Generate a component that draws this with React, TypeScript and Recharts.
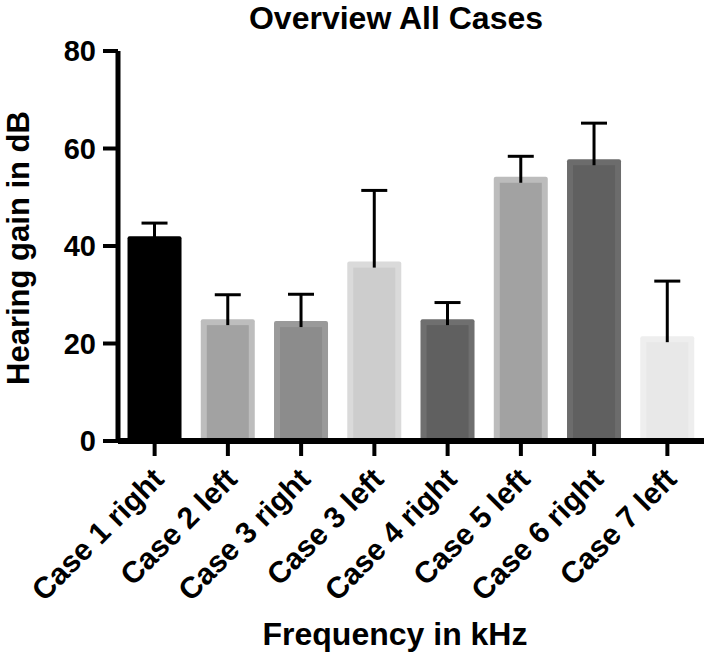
import { BarChart, Bar, XAxis, YAxis } from "recharts";

const cases = [
  "Case 1 right",
  "Case 2 left",
  "Case 3 right",
  "Case 3 left",
  "Case 4 right",
  "Case 5 left",
  "Case 6 right",
  "Case 7 left",
];
const gain = [42, 25, 24.6, 36.8, 25, 54.2, 57.8, 21.5];
const sd = [2.7, 5, 5.5, 14.6, 3.4, 4.2, 7.4, 11.3];
const fills = ["#000000", "#a2a2a2", "#8c8c8c", "#cdcdcd", "#606060", "#a2a2a2", "#606060", "#e8e8e8"];
const borders = ["#000000", "#bdbdbd", "#9a9a9a", "#dadada", "#6f6f6f", "#bcbcbc", "#6c6c6c", "#eeeeee"];
const yTicks = [0, 20, 40, 60, 80];

const rows = cases.map((name, i) => ({ name, gain: gain[i], sd: sd[i] }));

const FONT = "'Liberation Sans', Arial, Helvetica, sans-serif";

function BarWithError(props: any) {
  const { x, y, width, height, index, payload } = props;
  const unit = height / payload.gain; // px per dB from the y scale
  const top = y - payload.sd * unit;
  const cx = x + width / 2;
  const b = 6;
  return (
    <g>
      <rect x={x} y={y} width={width} height={height} fill={borders[index]} rx={2} />
      <rect x={x + b} y={y + b} width={width - 2 * b} height={height - b} fill={fills[index]} />
      <line x1={cx} x2={cx} y1={top} y2={y + 6} stroke="#000" strokeWidth={3} />
      <line x1={cx - 13} x2={cx + 13} y1={top} y2={top} stroke="#000" strokeWidth={3} />
    </g>
  );
}

function CaseTick(props: any) {
  const { x, y, payload } = props;
  return (
    <text
      x={0}
      y={0}
      transform={`translate(${x + 11},${y + 23}) rotate(-45)`}
      textAnchor="end"
      fontFamily={FONT}
      fontWeight="bold"
      fontSize={30}
      fill="#000"
    >
      {payload.value}
    </text>
  );
}

export default function App() {
  return (
    <div style={{ position: "absolute", left: 0, top: 0, background: "#fff" }}>
      <BarChart
        width={709}
        height={659}
        data={rows}
        margin={{ top: 51, right: 5, bottom: 0, left: 0 }}
        barCategoryGap="13%"
      >
        <text x={396} y={29} textAnchor="middle" fontFamily={FONT} fontWeight="bold" fontSize={32} fill="#000">
          Overview All Cases
        </text>
        <text
          transform="translate(29,248) rotate(-90)"
          textAnchor="middle"
          fontFamily={FONT}
          fontWeight="bold"
          fontSize={31}
          fill="#000"
        >
          Hearing gain in dB
        </text>
        <text x={395} y={645} textAnchor="middle" fontFamily={FONT} fontWeight="bold" fontSize={32} fill="#000">
          Frequency in kHz
        </text>
        <XAxis
          dataKey="name"
          height={218}
          interval={0}
          axisLine={{ stroke: "#000", strokeWidth: 6 }}
          tickLine={{ stroke: "#000", strokeWidth: 4 }}
          tickSize={15}
          tick={<CaseTick />}
        />
        <YAxis
          width={118}
          domain={[0, 80]}
          ticks={yTicks}
          interval={0}
          axisLine={{ stroke: "#000", strokeWidth: 5 }}
          tickLine={{ stroke: "#000", strokeWidth: 4 }}
          tickSize={15}
          tickMargin={7}
          tick={{ fill: "#000", fontFamily: FONT, fontWeight: "bold", fontSize: 29 }}
        />
        <Bar dataKey="gain" shape={<BarWithError />} isAnimationActive={false} />
      </BarChart>
    </div>
  );
}
